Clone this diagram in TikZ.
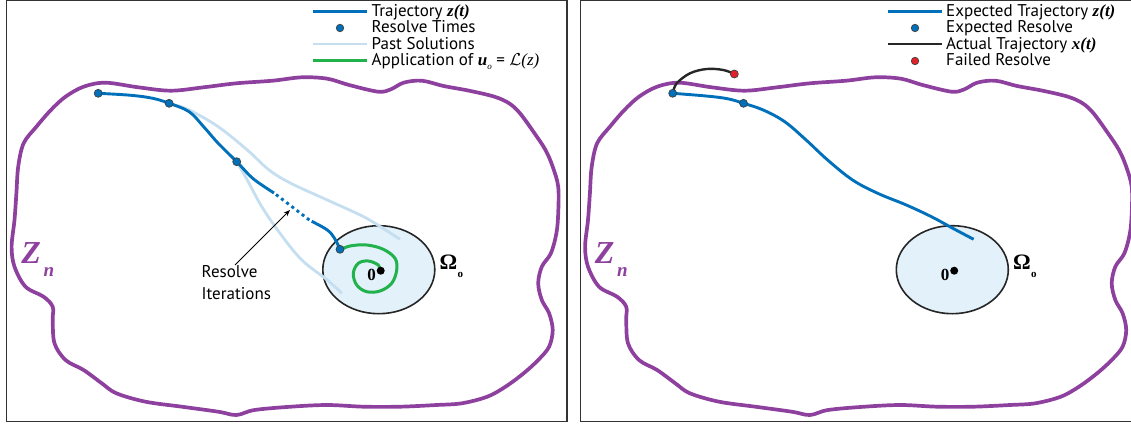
\documentclass[tikz,border=0pt]{standalone}
\usepackage{fontspec}
\setmainfont{PT Sans}
\newfontfamily\mser{Liberation Serif}
\usetikzlibrary{arrows.meta}
\definecolor{zpurple}{RGB}{142,64,158}
\definecolor{tblue}{RGB}{0,112,186}
\definecolor{pastblue}{RGB}{197,222,240}
\definecolor{agreen}{RGB}{34,178,76}
\definecolor{efill}{RGB}{226,241,250}
\definecolor{fred}{RGB}{228,32,42}
\definecolor{framegray}{RGB}{51,51,51}
\newcommand\bdrypts{(83.6,86.7) (105.5,82.7) (138.2,87.3) (170.9,90.7) (203.6,87.3) (236.4,83.3) (272.7,80.7) (301.8,77.3) (327.3,78.7) (349.1,85) (378.2,91.7) (390.9,89.3) (403.6,82.7) (421.8,80.7) (443.6,86) (469.1,90.7) (494.5,96.7) (509.1,103.3) (520,113.3) (534.5,133.3) (545.5,150) (552.7,166.7) (558.2,186.7) (558.2,213.3) (556.4,233.3) (550.9,253.3) (541.8,266.7) (538.2,283.3) (541.8,300) (549.1,313.3) (552.7,330) (549.1,346.7) (538.2,360) (523.6,373.3) (505.5,386.7) (487.3,396.7) (461.8,403.3) (436.4,405) (400,406.7) (363.6,406.7) (327.3,405) (290.9,406.7) (254.5,410) (236.4,415) (218.2,411.7) (181.8,406.7) (145.5,401.7) (116.4,393.3) (101.8,383.3) (83.6,370) (65.5,360) (54.5,343.3) (52.7,320) (52.7,306.7) (43.6,296.7) (25.5,286.7) (14.5,266.7) (11.6,246.7) (14.5,220) (16.4,193.3) (18.2,166.7) (23.6,143.3) (36.4,126.7) (50.9,110) (65.5,96.7)}
\tikzset{
  panelframe/.style={draw=framegray, line width=1.3pt},
  boundary/.style={draw=zpurple, line width=3.7pt, line join=round},
  traj/.style={draw=tblue, line width=2.9pt},
  past/.style={draw=pastblue, line width=2.8pt},
  applic/.style={draw=agreen, line width=3pt},
  actual/.style={draw=black!85, line width=2.4pt},
  region/.style={draw=black!85, line width=1.6pt, fill=efill},
  rdot/.style={circle, draw=black!75, fill=tblue, line width=0.7pt, inner sep=0pt, minimum size=8pt},
  fdot/.style={circle, draw=black!75, fill=fred, line width=0.7pt, inner sep=0pt, minimum size=8pt},
  odot/.style={circle, fill=black, inner sep=0pt, minimum size=8pt},
  legtext/.style={anchor=base west, inner sep=0pt, font=\fontsize{17}{17}\selectfont},
  zlab/.style={anchor=base west, inner sep=0pt, text=zpurple},
  olab/.style={anchor=base west, inner sep=0pt},
}
\begin{document}
\begin{tikzpicture}[x=1pt,y=-1pt]
\useasboundingbox (0,0) rectangle (1131,425);
% frames
\draw[panelframe] (6.5,0.8) rectangle (567,421.5);
\draw[panelframe] (1140,0.8) -- (580.5,0.8) -- (580.5,421.5) -- (1140,421.5);

% ---------- LEFT PANEL ----------
\draw[boundary] plot[smooth cycle, tension=0.55] coordinates {\bdrypts};
\draw[region] (378.8,269.7) ellipse [x radius=56pt, y radius=44pt];
% past solutions
\draw[past] plot[smooth, tension=0.6] coordinates {(169.1,103.3) (189.1,110) (218.2,126.7) (247.3,150) (269.1,170) (290.9,183.3) (327.3,200) (363.6,216.7) (385.5,230) (400,239.3)};
\draw[past] plot[smooth, tension=0.6] coordinates {(236.7,161.7) (247.3,180) (261.8,206.7) (280,233.3) (301.8,260) (327.3,280) (341.8,293.3)};
% trajectory
\draw[traj] plot[smooth, tension=0.6] coordinates {(98.2,93.3) (130.9,95.3) (152.7,98.3) (169.1,103.3) (189.1,111.7) (203.6,126.7) (218.2,143.3) (236.7,161.7) (250.9,176.7) (261.8,185) (274,193)};
\draw[traj, dash pattern=on 3pt off 3.5pt] (276,194.5) -- (310,220.5);
\draw[traj] plot[smooth, tension=0.6] coordinates {(311.7,221.3) (327.3,230) (334.5,238.3) (340,249.3)};
% green spiral
\draw[applic] plot[smooth, tension=0.6] coordinates {(340,250) (350,246) (366.7,245) (383.3,249.3) (395,258.3) (396.7,270) (391.7,283.3) (380,291) (366.7,291.7) (356.7,285) (353.3,273.3) (358.3,263.3) (368.3,261) (378.3,265) (380,270)};
% dots
\node[rdot] (l1) at (98.2,93.3) {};
\node[rdot] (l2) at (169.1,103.3) {};
\node[rdot] (l3) at (236.7,161.7) {};
\node[rdot] (l4) at (340,249.3) {};
\node[odot] (lo) at (380.7,270.7) {};
\node[olab, font=\mser\bfseries\fontsize{17}{17}\selectfont, anchor=base east] (lzero) at (376,280.7) {0};
\node[olab, font=\mser\bfseries\fontsize{22}{22}\selectfont] (lom) at (439.3,269.5) {Ω};
\node[olab, font=\mser\bfseries\fontsize{11}{11}\selectfont] (lomsub) at (457.5,277) {o};
\node[zlab, font=\mser\bfseries\itshape\fontsize{32}{32}\selectfont] (lZ) at (21.2,263.3) {Z};
\node[zlab, font=\mser\bfseries\itshape\fontsize{19}{19}\selectfont] (ln) at (43.3,276) {n};
% resolve iterations
\node[anchor=north west, inner sep=0pt, align=left, font=\fontsize{17}{21.5}\selectfont] (resit) at (201.5,265.5) {Resolve\\Iterations};
\coordinate (arrstart) at (235,265);
\coordinate (arrtip) at (290,210);
\draw[-{Stealth[length=6.5pt,width=5pt]}, line width=0.75pt] (arrstart) -- (arrtip);
% left legend
\draw[traj] (313.3,11.5) -- (366.7,11.5);
\node[rdot, minimum size=7.5pt] (lgdot) at (340,28) {};
\draw[past] (313.3,44) -- (366.7,44);
\draw[applic] (313.3,60.5) -- (366.7,60.5);
\node[legtext] (lg1) at (371.5,16.6) {Trajectory {\mser\bfseries\itshape z(t)}};
\node[legtext] (lg2) at (371.5,32.9) {Resolve Times};
\node[legtext] (lg3) at (371.5,49.2) {Past Solutions};
\node[legtext] (lg4) at (371.5,65.5) {Application of {\mser\bfseries\itshape u\raisebox{-4pt}{\fontsize{9}{9}\selectfont\mdseries o}} = $\mathcal{L}${\mser\itshape(z)}};

% ---------- RIGHT PANEL ----------
\begin{scope}[xshift=573.5pt]
\draw[boundary] plot[smooth cycle, tension=0.55] coordinates {\bdrypts};
\draw[region] (378.8,269.7) ellipse [x radius=56pt, y radius=44pt];
\node[odot] (ro) at (380.7,270.7) {};
\node[olab, font=\mser\bfseries\fontsize{17}{17}\selectfont, anchor=base east] (rzero) at (376,280.7) {0};
\node[olab, font=\mser\bfseries\fontsize{22}{22}\selectfont] (rom) at (439.3,269.5) {Ω};
\node[olab, font=\mser\bfseries\fontsize{11}{11}\selectfont] (romsub) at (457.5,277) {o};
\node[zlab, font=\mser\bfseries\itshape\fontsize{32}{32}\selectfont] (rZ) at (21.2,263.3) {Z};
\node[zlab, font=\mser\bfseries\itshape\fontsize{19}{19}\selectfont] (rn) at (43.3,276) {n};
\end{scope}
\draw[traj] plot[smooth, tension=0.6] coordinates {(672.7,93.3) (706,96) (727.4,98.7) (743.5,103.3) (763.2,110) (784.7,121.7) (806.1,140) (827.6,160) (852.6,180) (877.7,193.3) (906.3,205) (931.4,216.7) (952.8,228.3) (973.6,239.3)};
\draw[actual] plot[smooth, tension=0.6] coordinates {(673,92.7) (676.7,83.3) (690,73.3) (706.7,69) (723.3,70) (734.3,74)};
\node[rdot] (r1) at (672.7,93.3) {};
\node[rdot] (r2) at (743.5,103.3) {};
\node[fdot] (rf) at (734.3,74) {};
% right legend
\draw[traj] (888.3,11.5) -- (941.7,11.5);
\node[rdot, minimum size=7.5pt] (rgdot) at (915,28) {};
\draw[actual, line width=2.6pt] (888.3,44) -- (941.7,44);
\node[fdot, minimum size=7.5pt] (rgfdot) at (915,61) {};
\node[legtext] (rg1) at (946,16.6) {Expected Trajectory {\mser\bfseries\itshape z(t)}};
\node[legtext] (rg2) at (946,32.9) {Expected Resolve};
\node[legtext] (rg3) at (946,49.2) {Actual Trajectory {\mser\bfseries\itshape x(t)}};
\node[legtext] (rg4) at (946,65.5) {Failed Resolve};
\end{tikzpicture}
\end{document}
